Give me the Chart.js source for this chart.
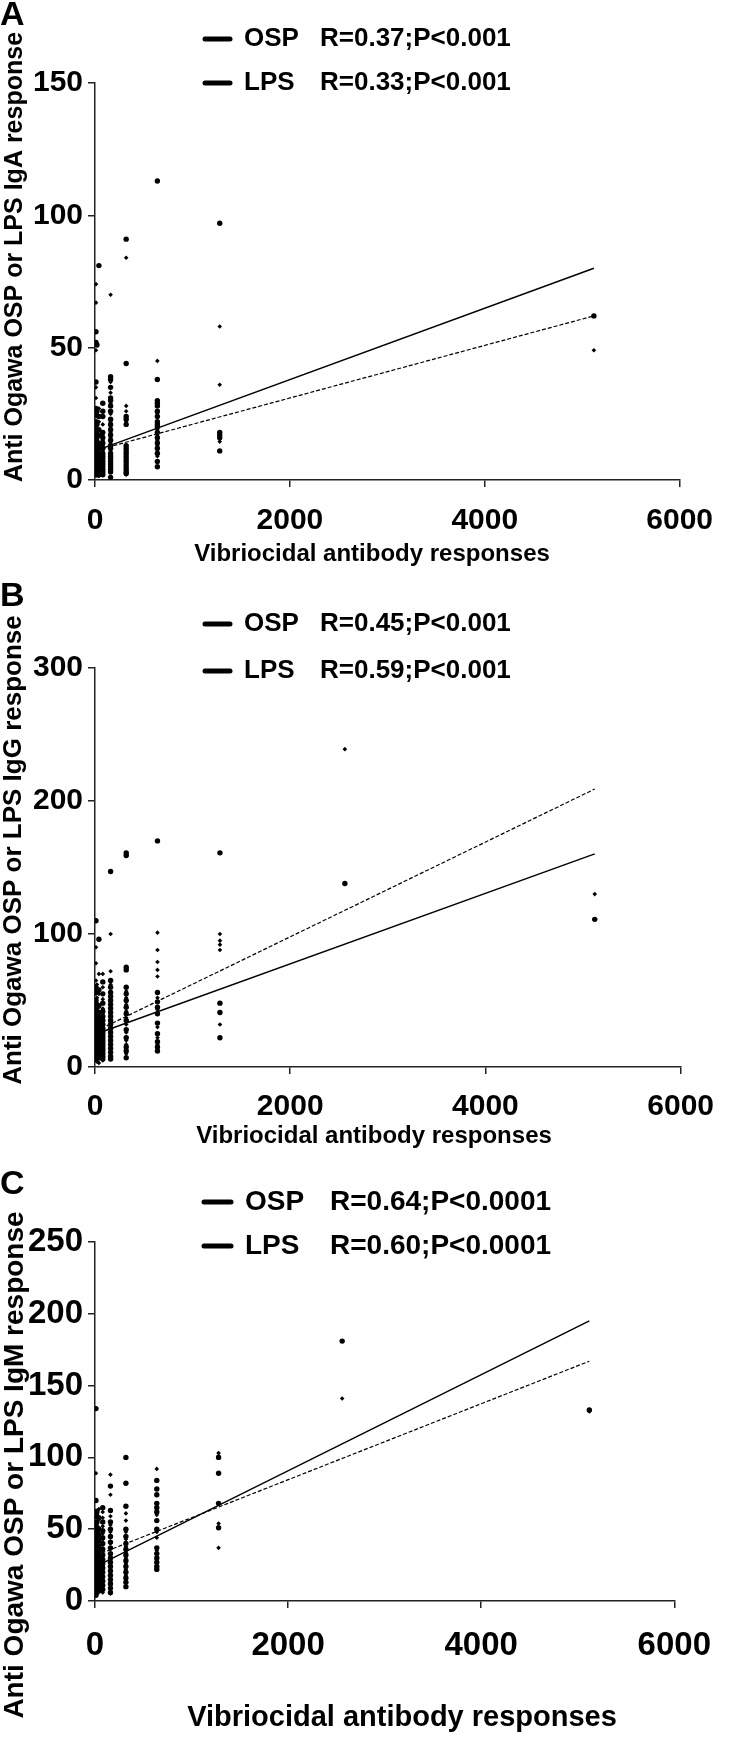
<!DOCTYPE html>
<html>
<head>
<meta charset="utf-8">
<script src="https://cdn.jsdelivr.net/npm/chart.js@4.4.1/dist/chart.umd.min.js"></script>
<style>
  body { margin: 0; background: #fff; width: 729px; height: 1737px; position: relative; overflow: hidden; }
  .panel { position: absolute; left: 0; width: 729px; }
</style>
</head>
<body>
<div class="panel" style="top:0;height:578px"><canvas id="chartA"></canvas></div>
<div class="panel" style="top:578px;height:578px"><canvas id="chartB"></canvas></div>
<div class="panel" style="top:1156px;height:581px"><canvas id="chartC"></canvas></div>
<script>
// vibriocidal titer columns (x values)
var titers = [10, 20, 40, 80, 160, 320, 640, 1280, 2560, 5120];
var seriesNames = ['OSP', 'LPS'];

// panel A: IgA, one list of responses per titer
var igaOsp = [
    [56, 52, 37, 27, 22, 18, 15, 13, 11, 9, 8, 7, 6, 5, 4, 3, 2.5, 2],
    [51, 26, 21, 16, 14, 12, 10, 9, 7, 6, 5, 4, 3, 2],
    [81, 24, 19, 17, 14, 12, 10, 8, 6, 5, 4, 3, 2],
    [29, 26, 24, 18, 16, 14, 12, 10, 9, 8, 7, 6, 5, 4, 3, 2],
    [39, 38, 35, 31, 30, 28, 26, 23, 21, 19, 17, 15, 13, 12, 10, 9, 8, 7, 6, 5, 4, 3, 1],
    [91, 44, 24, 23, 21, 13, 12, 11, 10, 9, 8, 7, 6, 5, 4, 3, 2.5],
    [113, 38, 30, 29, 28, 26, 24, 22, 21, 20, 18, 16, 14, 12, 10, 7, 5],
    [97, 18, 17, 16, 11],
    [],
    [62]
];
var igaLps = [
    [74, 67, 49, 35, 31, 24, 20, 17, 14, 12, 10, 8, 6, 5, 4, 3, 2],
    [25, 19, 15, 12, 10, 8, 7, 5, 4, 3, 2],
    [27, 22, 17, 13, 11, 9, 7, 6, 4, 3, 2, 1.5],
    [21, 17, 15, 13, 11, 9, 7, 6, 5, 4, 3, 2],
    [70, 37, 33, 29, 25, 22, 20, 18, 16, 14, 11, 9, 7, 5, 3, 1],
    [84, 28, 26, 22, 13, 11, 9, 8, 7, 6, 5, 4, 3, 2],
    [45, 30, 25, 19, 17, 15, 13, 11, 9],
    [58, 36, 14.5],
    [],
    [49]
];

// panel B: IgG
var iggOsp = [
    [110, 60, 50, 45, 42, 38, 35, 33, 30, 28, 26, 24, 22, 20, 18, 16, 14, 12, 10, 8, 6],
    [57, 47, 40, 36, 32, 29, 27, 25, 23, 21, 19, 17, 15, 13, 11, 9, 7],
    [96, 58, 46, 41, 37, 33, 30, 28, 26, 24, 22, 20, 18, 16, 14, 12, 10, 8],
    [64, 55, 48, 42, 38, 35, 32, 29, 26, 24, 22, 20, 18, 16, 14, 12, 10, 8, 6],
    [147, 65, 60, 56, 53, 50, 47, 44, 41, 38, 35, 32, 29, 26, 23, 20, 17, 14, 11, 8, 6],
    [161, 159, 75, 73, 60, 55, 50, 45, 40, 35, 28, 22, 15, 12, 7],
    [170, 56, 49, 45, 40, 33, 25, 19, 15, 12],
    [161, 48, 41, 22],
    [138],
    [111]
];
var iggLps = [
    [90, 78, 65, 55, 48, 44, 40, 37, 34, 31, 29, 27, 25, 23, 21, 19, 17, 15, 13, 11, 9, 7, 5],
    [62, 52, 43, 38, 34, 30, 28, 26, 24, 22, 20, 18, 16, 14, 12, 10, 8, 4],
    [70, 55, 45, 39, 35, 32, 29, 26, 23, 21, 19, 17, 15, 13, 11, 9, 6, 3],
    [70, 60, 51, 44, 40, 36, 33, 30, 27, 25, 23, 21, 19, 17, 15, 13, 11, 9, 5],
    [100, 72, 62, 57, 54, 51, 48, 45, 42, 39, 36, 33, 30, 27, 24, 21, 18, 15, 12, 9],
    [57, 52, 47, 42, 37, 32, 26, 20, 17, 13, 10],
    [101, 88, 79, 73, 68, 52, 43, 30, 22, 17],
    [100, 95, 92, 88, 32],
    [239],
    [130]
];

// panel C: IgM
var igmOsp = [
    [134, 70, 60, 52, 47, 43, 40, 37, 34, 31, 28, 25, 22, 19, 16, 13, 10, 7, 4],
    [62, 55, 48, 44, 39, 36, 33, 30, 27, 24, 21, 18, 15, 12, 9, 6],
    [58, 50, 46, 42, 38, 34, 31, 28, 25, 22, 19, 16, 13, 10, 7],
    [65, 55, 49, 44, 40, 36, 32, 29, 26, 23, 20, 17, 14, 11, 8],
    [80, 63, 55, 50, 45, 41, 37, 33, 30, 27, 24, 21, 18, 15, 12, 9, 6],
    [100, 82, 66, 50, 45, 40, 36, 32, 28, 24, 20, 16, 13, 10],
    [84, 78, 74, 68, 65, 62, 56, 50, 37, 33, 30, 27, 24, 22],
    [100, 89, 68, 51],
    [181],
    [133]
];
var igmLps = [
    [89, 63, 58, 55, 50, 45, 41, 38, 35, 32, 29, 26, 23, 20, 17, 14, 11, 8, 5],
    [60, 53, 46, 42, 38, 35, 32, 29, 26, 23, 20, 17, 14, 11, 8],
    [64, 57, 51, 47, 43, 39, 36, 33, 30, 27, 24, 21, 18, 15, 12, 9],
    [62, 58, 52, 47, 43, 39, 35, 31, 28, 25, 22, 19, 16, 13, 10, 6],
    [88, 74, 59, 53, 48, 44, 40, 36, 32, 29, 26, 23, 20, 17, 14, 11, 8, 5],
    [61, 56, 48, 43, 38, 34, 30, 26, 22, 18, 14],
    [92, 66, 60, 48, 44, 35, 29],
    [103, 101, 54, 37],
    [141],
    [132]
];

// regression line end points (at first and last titer)
var fitX = [10, 5120];
var igaFitOsp = [11.1, 80];
var igaFitLps = [11.2, 62];
var iggFitOsp = [24.8, 160.3];
var iggFitLps = [27, 209];
var igmFitOsp = [24.1, 195];
var igmFitLps = [31.8, 167];

var igaStats = ['R=0.37;P<0.001', 'R=0.33;P<0.001'];
var iggStats = ['R=0.45;P<0.001', 'R=0.59;P<0.001'];
var igmStats = ['R=0.64;P<0.0001', 'R=0.60;P<0.0001'];

var yTicksA = [0, 150, 50];
var yTicksB = [0, 300, 100];
var yTicksC = [0, 250, 50];
var xTicks = [0, 6000, 2000];

var FONT = '"Liberation Sans", Arial, Helvetica, sans-serif';

function toPoints(cols) {
    var pts = [];
    titers.forEach(function (t, i) {
        cols[i].forEach(function (v) { pts.push({ x: t, y: v }); });
    });
    return pts;
}

function toLine(ys) {
    return fitX.map(function (x, i) { return { x: x, y: ys[i] }; });
}

var panelText = {
    id: 'panelText',
    afterDraw: function (chart, args, o) {
        var ctx = chart.ctx;
        ctx.save();
        ctx.fillStyle = '#000';
        ctx.strokeStyle = '#000';

        ctx.font = 'bold 34px ' + FONT;
        ctx.textAlign = 'left';
        ctx.textBaseline = 'alphabetic';
        ctx.fillText(o.letter, 0, o.letterY);

        ctx.font = 'bold ' + o.legendSize + 'px ' + FONT;
        ctx.textBaseline = 'middle';
        seriesNames.forEach(function (name, i) {
            var y = o.legendY[i];
            ctx.lineWidth = 5;
            ctx.lineCap = 'round';
            ctx.beginPath();
            ctx.moveTo(o.dashX[0], y);
            ctx.lineTo(o.dashX[1], y);
            ctx.stroke();
            ctx.fillText(name, o.labelX, y);
            ctx.fillText(o.stats[i], o.statX, y);
        });

        ctx.textAlign = 'center';
        ctx.font = 'bold ' + o.xTitle.size + 'px ' + FONT;
        ctx.fillText(o.xTitle.text, o.xTitle.x, o.xTitle.y);

        ctx.font = 'bold ' + o.yTitle.size + 'px ' + FONT;
        ctx.translate(o.yTitle.x, o.yTitle.y);
        ctx.rotate(-Math.PI / 2);
        ctx.fillText(o.yTitle.text, 0, 0);
        ctx.restore();
    }
};

function makePanel(id, p) {
    var ctx = document.getElementById(id).getContext('2d');
    var axisColor = '#222';
    return new Chart(ctx, {
        type: 'scatter',
        data: {
            datasets: [{
                label: 'OSP',
                data: toPoints(p.osp),
                pointStyle: 'circle',
                pointRadius: 2.7,
                backgroundColor: '#000',
                borderWidth: 0
            }, {
                label: 'LPS',
                data: toPoints(p.lps),
                pointStyle: 'rectRot',
                pointRadius: 2.3,
                backgroundColor: '#000',
                borderWidth: 0
            }, {
                label: 'OSP fit',
                data: toLine(p.fitOsp),
                showLine: true,
                borderColor: '#000',
                borderWidth: 1.4,
                pointRadius: 0,
                fill: false
            }, {
                label: 'LPS fit',
                data: toLine(p.fitLps),
                showLine: true,
                borderColor: '#000',
                borderWidth: 1.2,
                borderDash: [4, 2],
                pointRadius: 0,
                fill: false
            }]
        },
        options: {
            responsive: true,
            maintainAspectRatio: false,
            animation: false,
            layout: { autoPadding: false, padding: { top: p.top, right: p.right, left: 0, bottom: 0 } },
            scales: {
                x: {
                    type: 'linear',
                    min: xTicks[0], max: xTicks[1],
                    ticks: {
                        stepSize: xTicks[2],
                        color: '#000',
                        padding: p.xPad,
                        maxRotation: 0,
                        font: { family: FONT, size: p.tickSize, weight: 'bold' },
                        callback: function (v) { return String(v); }
                    },
                    grid: { drawOnChartArea: false, drawTicks: true, tickLength: 7, color: axisColor, lineWidth: 1.5 },
                    border: { display: true, color: axisColor, width: 1.5 },
                    afterFit: function (s) { s.height = p.xHeight; }
                },
                y: {
                    type: 'linear',
                    min: p.yTicks[0], max: p.yTicks[1],
                    ticks: {
                        stepSize: p.yTicks[2],
                        color: '#000',
                        padding: 5,
                        font: { family: FONT, size: p.tickSize, weight: 'bold' },
                        callback: function (v) { return String(v); }
                    },
                    grid: { drawOnChartArea: false, drawTicks: true, tickLength: 7, color: axisColor, lineWidth: 1.5 },
                    border: { display: true, color: axisColor, width: 1.5 },
                    afterFit: function (s) { s.width = 95; }
                }
            },
            plugins: {
                legend: { display: false },
                tooltip: { enabled: false },
                panelText: p.text
            }
        },
        plugins: [panelText]
    });
}

makePanel('chartA', {
    osp: igaOsp, lps: igaLps, fitOsp: igaFitOsp, fitLps: igaFitLps, yTicks: yTicksA,
    top: 83, right: 32, xHeight: 98, xPad: 16, tickSize: 30,
    text: {
        letter: 'A', letterY: 25, legendSize: 26, legendY: [39, 83],
        dashX: [205, 230], labelX: 244, statX: 320, stats: igaStats,
        xTitle: { text: 'Vibriocidal antibody responses', x: 372, y: 554, size: 24 },
        yTitle: { text: 'Anti Ogawa OSP or LPS IgA response', x: 15, y: 257, size: 25 }
    }
});

makePanel('chartB', {
    osp: iggOsp, lps: iggLps, fitOsp: iggFitOsp, fitLps: iggFitLps, yTicks: yTicksB,
    top: 90, right: 32, xHeight: 89, xPad: 15, tickSize: 30,
    text: {
        letter: 'B', letterY: 28, legendSize: 26, legendY: [46, 93],
        dashX: [205, 230], labelX: 244, statX: 320, stats: iggStats,
        xTitle: { text: 'Vibriocidal antibody responses', x: 374, y: 558, size: 24 },
        yTitle: { text: 'Anti Ogawa OSP or LPS IgG response', x: 14, y: 272, size: 26 }
    }
});

makePanel('chartC', {
    osp: igmOsp, lps: igmLps, fitOsp: igmFitOsp, fitLps: igmFitLps, yTicks: yTicksC,
    top: 86, right: 31, xHeight: 136, xPad: 18, tickSize: 33,
    text: {
        letter: 'C', letterY: 38, legendSize: 28, legendY: [46, 90],
        dashX: [204, 231], labelX: 245, statX: 330, stats: igmStats,
        xTitle: { text: 'Vibriocidal antibody responses', x: 402, y: 562, size: 29 },
        yTitle: { text: 'Anti Ogawa OSP or LPS IgM response', x: 15, y: 309, size: 28 }
    }
});
</script>
</body>
</html>
